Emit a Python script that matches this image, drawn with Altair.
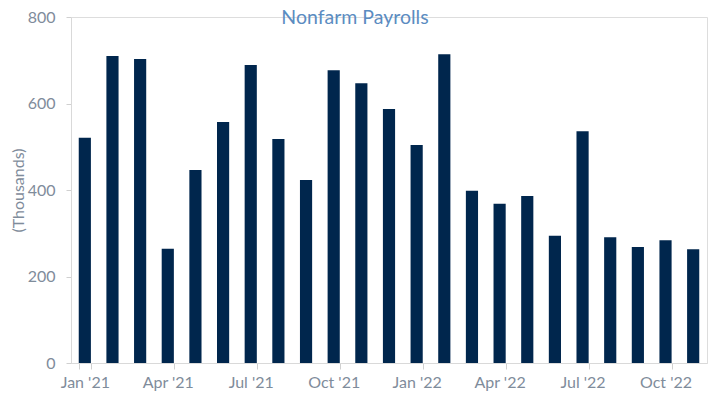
import altair as alt
import pandas as pd

months = ["Jan '21", "Feb '21", "Mar '21", "Apr '21", "May '21", "Jun '21",
          "Jul '21", "Aug '21", "Sep '21", "Oct '21", "Nov '21", "Dec '21",
          "Jan '22", "Feb '22", "Mar '22", "Apr '22", "May '22", "Jun '22",
          "Jul '22", "Aug '22", "Sep '22", "Oct '22", "Nov '22"]
payrolls = [521, 710, 703, 264, 446, 557, 689, 518, 423, 677, 647, 587,
            504, 714, 398, 368, 386, 294, 536, 291, 268, 284, 263]
tick_labels = ["Jan '21", "Apr '21", "Jul '21", "Oct '21",
               "Jan '22", "Apr '22", "Jul '22", "Oct '22"]

df = pd.DataFrame({"month": months, "value": payrolls})

label_color = "#7f8c9b"
font = "Lato"

chart = alt.Chart(df).mark_bar(color="#00264d").encode(
    x=alt.X("month:O", sort=months, title=None,
            scale=alt.Scale(paddingInner=0.56, paddingOuter=0.28),
            axis=alt.Axis(values=tick_labels, tickBand="extent", labelAngle=0,
                          labelColor=label_color, labelFont=font, labelFontSize=16,
                          labelPadding=5, tickSize=6, tickColor="#d0d0d0",
                          domainColor="#d9d9d9", grid=False)),
    y=alt.Y("value:Q", title="(Thousands)",
            scale=alt.Scale(domain=[0, 800], nice=False),
            axis=alt.Axis(values=[0, 200, 400, 600, 800], grid=False,
                          labelColor=label_color, labelFont=font, labelFontSize=16,
                          labelPadding=11, tickSize=5, tickColor="#d0d0d0",
                          domainColor="#d9d9d9", titleColor=label_color,
                          titleFont=font, titleFontSize=16, titleFontWeight="normal",
                          titleX=-53, titleBaseline="middle")),
).properties(
    width=636, height=346,
    autosize=alt.AutoSizeParams(type="none"),
    padding={"left": 63, "top": 9, "right": 2, "bottom": 28},
    title=alt.TitleParams("Nonfarm Payrolls", color="#5b8cc1", font=font,
                          fontSize=19.5, fontWeight="normal", anchor="middle",
                          dx=-34, offset=-19),
).configure_view(stroke=None).configure(background="white")

chart.save("out.html", embed_options={"renderer": "svg", "actions": False})
